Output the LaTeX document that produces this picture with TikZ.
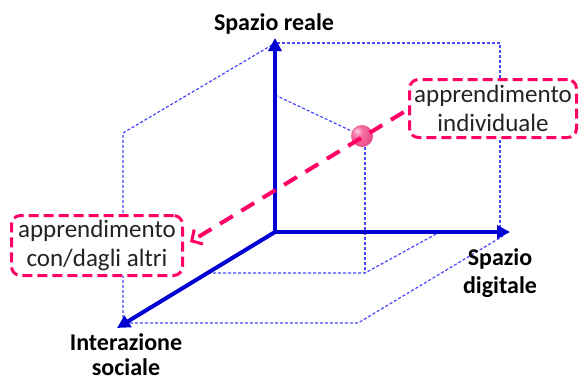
\documentclass[tikz,border=0pt]{standalone}
\usepackage{fontspec}
\setmainfont{Carlito}
\usetikzlibrary{arrows.meta,calc}
\definecolor{axisblue}{RGB}{0,0,210}
\definecolor{dotblue}{RGB}{70,70,255}
\definecolor{hotpink}{RGB}{255,0,102}
\definecolor{txtgray}{RGB}{35,35,35}
\definecolor{ballhi}{RGB}{255,205,225}
\definecolor{ballmid}{RGB}{245,110,160}
\definecolor{balledge}{RGB}{225,55,120}
\pgfdeclareradialshading{pinkball}{\pgfpoint{-12bp}{12bp}}{color(0bp)=(ballhi); color(12bp)=(ballmid); color(42bp)=(balledge); color(60bp)=(balledge)}
\tikzset{
  axis/.style={draw=axisblue, line width=4pt, -{Triangle[length=13pt,width=13pt]}},
  guide/.style={draw=dotblue, line width=1.2pt, dash pattern=on 3pt off 2pt},
  lbl/.style={font=\fontsize{24}{28}\selectfont\bfseries, text=black, align=center, inner sep=0pt},
  tagbox/.style={draw=hotpink, fill=white, line width=3pt, dash pattern=on 10pt off 5pt,
    rounded corners=9pt, font=\fontsize{25}{29}\selectfont, text=txtgray, align=center, inner sep=0pt},
  flow/.style={draw=hotpink, line width=4pt, dash pattern=on 15pt off 10pt,
    -{Straight Barb[length=8pt,width=17pt,line width=3pt]}}
}
\begin{document}
\begin{tikzpicture}[x=1pt,y=-1pt]
\useasboundingbox (0,0) rectangle (579,381);
% key points
\coordinate (O) at (275,232);
\coordinate (Ytip) at (275,38);
\coordinate (Xtip) at (510,232);
\coordinate (Ztip) at (117,328);
\coordinate (YX) at (500,43);
\coordinate (YZ) at (123,133);
\coordinate (ZZ) at (123,323);
\coordinate (ZX) at (358,323);
\coordinate (Xend) at (503,236);
\coordinate (Ypt) at (275,95);
\coordinate (Zpt) at (208,273);
\coordinate (Xpt) at (438,233);
\coordinate (G) at (365,273);
\coordinate (P) at (362,136);
% box outline guides
\draw[guide] (277,43) -- (YX) -- (500,229);
\draw[guide] (272,45) -- (YZ) -- (ZZ) -- (ZX) -- (Xend);
% projection guides
\draw[guide] (Ypt) -- (P);
\draw[guide] (365,147) -- (G);
\draw[guide] (Zpt) -- (G) -- (Xpt);
% axes
\draw[axis] (O) -- (Ytip);
\draw[axis] (O) -- (Xtip);
\draw[axis] (O) -- (Ztip);
% labels
\node[lbl] (yl) at (274,24) {Spazio reale};
\node[lbl] (xl) at (500,273) {Spazio\\digitale};
\node[lbl, font=\fontsize{24}{25}\selectfont\bfseries] (zl) at (126,355) {Interazione\\sociale};
% boxes
\node[tagbox, minimum width=167pt, minimum height=58pt] (ind) at (493,108.5) {apprendimento\\individuale};
\node[tagbox, minimum width=171pt, minimum height=60pt] (alt) at (97,245.5) {apprendimento\\con/dagli altri};
% ball
\shade[shading=pinkball] (P) circle[radius=11pt];
% flow arrow
\draw[flow, shorten <=5pt] ($(ind.west)+(0,1)$) -- ($(alt.east)+(6,-3.5)$);
\end{tikzpicture}
\end{document}
